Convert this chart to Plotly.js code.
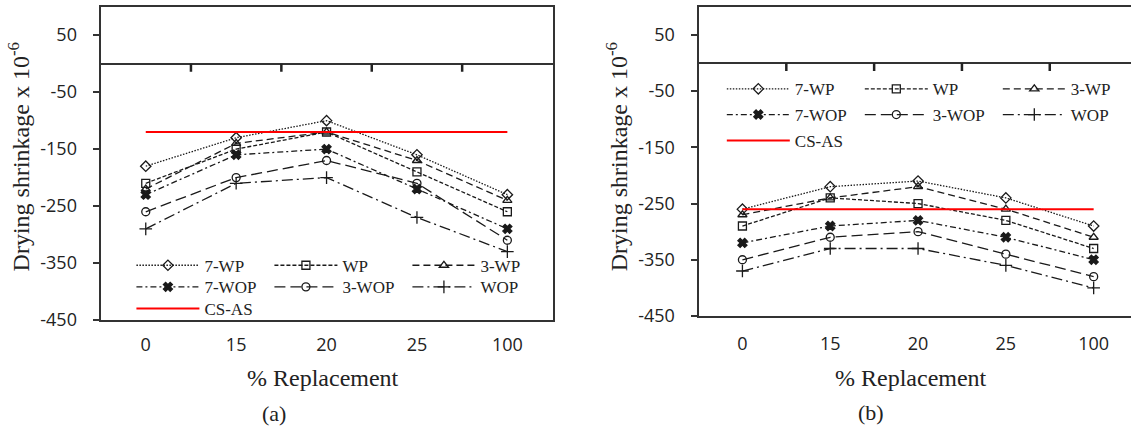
<!DOCTYPE html>
<html>
<head>
<meta charset="utf-8">
<script src="https://cdn.plot.ly/plotly-3.0.1.min.js"></script>
<style>html,body{margin:0;padding:0;background:#fff;}#chart{width:1136px;height:426px;}</style>
</head>
<body>
<div id="chart"></div>
<script>
// ---------- data ----------
const categories = ['0', '15', '20', '25', '100'];
const seriesNames = ['7-WP', 'WP', '3-WP', '7-WOP', '3-WOP', 'WOP'];
const refName = 'CS-AS';

// panel (a)
const a_7WP  = [-180, -130, -100, -160, -230];
const a_WP   = [-210, -150, -120, -190, -260];
const a_3WP  = [-220, -140, -120, -170, -240];
const a_7WOP = [-230, -160, -150, -220, -290];
const a_3WOP = [-260, -200, -170, -210, -310];
const a_WOP  = [-290, -210, -200, -270, -330];
const a_CSAS = [-120, -120, -120, -120, -120];

// panel (b)
const b_7WP  = [-260, -220, -210, -240, -290];
const b_WP   = [-290, -240, -250, -280, -330];
const b_3WP  = [-270, -240, -220, -260, -310];
const b_7WOP = [-320, -290, -280, -310, -350];
const b_3WOP = [-350, -310, -300, -340, -380];
const b_WOP  = [-370, -330, -330, -360, -400];
const b_CSAS = [-260, -260, -260, -260, -260];

const yTickVals = [50, -50, -150, -250, -350, -450];
const yTickText = yTickVals.map(v => String(v));
const xTitle = '% Replacement';
const yTitle = 'Drying shrinkage x 10<sup>-6</sup>';
const panelLabels = ['(a)', '(b)'];

// ---------- styles ----------
const W = 1136, H = 426;
const dashes  = ['1.5px,1.5px', '4px,2px', '7px,4px', '6px,3px,2px,3px', '11px,5px', '11px,4px,2px,4px'];
const symbols = ['diamond-open', 'square-open', 'triangle-up-open', 'x', 'circle-open', 'cross-thin-open'];
const sizes   = [8, 8, 8, 8, 8, 9];
const ink = '#1a1a1a';
const axisCol = '#333';
const serif = 'Liberation Serif, Times New Roman, serif';
const sans = 'Open Sans, sans-serif';

const yRange = [-450, 100];

// geometry (pixels)
const A = {x0: 101, x1: 555, y0: 6.7, y1: 320};
const B = {x0: 701.6, x1: 1136, y0: 6.7, y1: 316, spacing: 88.2};
const px = v => v / W;
const py = v => 1 - v / H;

const xRangeA = [-0.5, 4.5];
const xRangeB = [-0.5, -0.5 + (B.x1 - B.x0) / B.spacing];

function makePanel(seriesVals, refVals, xa, ya, legendIds) {
  const traces = seriesVals.map((vals, i) => ({
    type: 'scatter', mode: 'lines+markers',
    x: categories, y: vals, name: seriesNames[i],
    xaxis: xa, yaxis: ya,
    legend: legendIds[i < 3 ? 0 : 1],
    line: {color: ink, width: 1.3, dash: dashes[i]},
    marker: {symbol: symbols[i], size: sizes[i], color: ink, line: {color: ink, width: 1.3}},
    cliponaxis: false
  }));
  traces.push({
    type: 'scatter', mode: 'lines',
    x: categories, y: refVals, name: refName,
    xaxis: xa, yaxis: ya, legend: legendIds[2],
    line: {color: '#ff0000', width: 2}
  });
  return traces;
}

const data = [].concat(
  makePanel([a_7WP, a_WP, a_3WP, a_7WOP, a_3WOP, a_WOP], a_CSAS, 'x', 'y', ['legend', 'legend2', 'legend3']),
  makePanel([b_7WP, b_WP, b_3WP, b_7WOP, b_3WOP, b_WOP], b_CSAS, 'x2', 'y2', ['legend4', 'legend5', 'legend6'])
);

const yDomA = [py(A.y1), py(A.y0)];
const yDomB = [py(B.y1), py(B.y0)];

function yAxis(dom, xid, mirror) {
  return {
    domain: dom, anchor: xid, range: yRange, tickvals: yTickVals, ticktext: yTickText,
    ticks: 'outside', ticklen: 6, tickwidth: 2, tickcolor: axisCol,
    showline: true, linewidth: 2, linecolor: axisCol, mirror: mirror,
    zeroline: true, zerolinewidth: 2, zerolinecolor: axisCol,
    showgrid: false, tickfont: {family: sans, size: 18, color: '#222'},
    ticklabelstandoff: 12
  };
}
function xAxis(dom, range, yid, standoff) {
  return {
    domain: dom, type: 'category', categoryorder: 'array', categoryarray: categories,
    range: range, anchor: yid, showline: true, linewidth: 2, linecolor: axisCol, mirror: true,
    ticks: '', showgrid: false, zeroline: false,
    tickfont: {family: sans, size: 18, color: '#222'}, ticklabelstandoff: standoff
  };
}

// small category-boundary tick marks hanging below the zero line (layout decoration)
function boundaryTicks(xid, yid, xRange, geo) {
  const unitsPerPx = (yRange[1] - yRange[0]) / (geo.y1 - geo.y0);
  return categories.slice(1).map((c, i) => ({
    type: 'line', xref: xid + ' domain', yref: yid, layer: 'above',
    x0: (i + 0.5 - xRange[0]) / (xRange[1] - xRange[0]),
    x1: (i + 0.5 - xRange[0]) / (xRange[1] - xRange[0]),
    y0: 0, y1: -8 * unitsPerPx,
    line: {color: '#222', width: 2.5}
  }));
}

function legendRow(xp, yp) {
  return {
    orientation: 'h', x: px(xp), xanchor: 'left', y: py(yp), yanchor: 'middle',
    bgcolor: 'rgba(0,0,0,0)', borderwidth: 0,
    font: {family: serif, size: 17, color: '#222'},
    itemwidth: 63, entrywidth: 60, entrywidthmode: 'pixels', tracegroupgap: 0
  };
}

const layout = {
  width: W, height: H,
  margin: {l: 0, r: 0, t: 0, b: 0},
  paper_bgcolor: '#fff', plot_bgcolor: '#fff',
  showlegend: true,
  xaxis: xAxis([px(A.x0), px(A.x1)], xRangeA, 'y', 7),
  yaxis: yAxis(yDomA, 'x', true),
  xaxis2: xAxis([px(B.x0), 1], xRangeB, 'y2', 10),
  yaxis2: yAxis(yDomB, 'x2', false),
  shapes: boundaryTicks('x', 'y', xRangeA, A).concat(boundaryTicks('x2', 'y2', xRangeB, B)),
  legend:  legendRow(132, 265.7),
  legend2: legendRow(132, 287.3),
  legend3: legendRow(132, 309),
  legend4: legendRow(725, 89.3),
  legend5: legendRow(725, 115),
  legend6: legendRow(725, 141),
  annotations: [
    {xref: 'paper', yref: 'paper', x: px(20), y: py(156.5), text: yTitle, textangle: -90,
     showarrow: false, xanchor: 'center', yanchor: 'middle', font: {family: serif, size: 24, color: '#222'}},
    {xref: 'paper', yref: 'paper', x: px(620), y: py(157), text: yTitle, textangle: -90,
     showarrow: false, xanchor: 'center', yanchor: 'middle', font: {family: serif, size: 24, color: '#222'}},
    {xref: 'paper', yref: 'paper', x: px(324), y: py(378), text: xTitle,
     showarrow: false, xanchor: 'center', yanchor: 'middle', font: {family: serif, size: 24, color: '#222'}},
    {xref: 'paper', yref: 'paper', x: px(915), y: py(378), text: xTitle,
     showarrow: false, xanchor: 'center', yanchor: 'middle', font: {family: serif, size: 24, color: '#222'}},
    {xref: 'paper', yref: 'paper', x: px(275), y: py(413), text: panelLabels[0],
     showarrow: false, xanchor: 'center', yanchor: 'middle', font: {family: serif, size: 22, color: '#222'}},
    {xref: 'paper', yref: 'paper', x: px(875), y: py(412), text: panelLabels[1],
     showarrow: false, xanchor: 'center', yanchor: 'middle', font: {family: serif, size: 22, color: '#222'}}
  ]
};

Plotly.newPlot('chart', data, layout, {displayModeBar: false, staticPlot: true});
</script>
</body>
</html>
